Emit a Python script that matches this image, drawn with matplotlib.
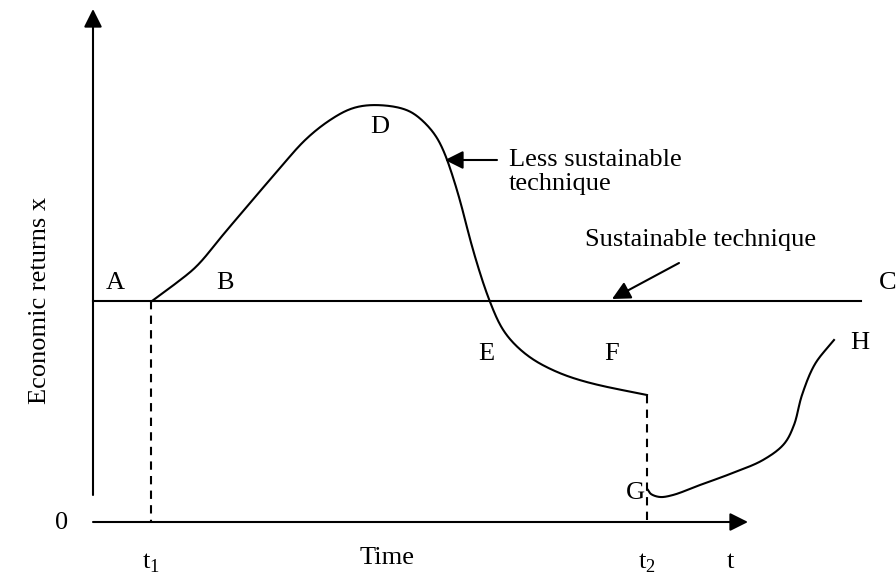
import numpy as np
import matplotlib.pyplot as plt

plt.rcParams['font.family'] = ['Liberation Serif', 'DejaVu Serif']
plt.rcParams['mathtext.fontset'] = 'custom'
plt.rcParams['mathtext.rm'] = 'Liberation Serif'

# diagram coordinates (pixel space, y downward)
less_x = [152, 175, 197, 222, 250, 280, 305, 330, 353, 377, 407, 425, 440, 457, 473, 490, 505, 528, 557, 590, 647]
less_y = [301, 284, 266, 236, 203, 168, 140, 120, 108, 105, 110, 123, 143, 190, 250, 302, 333, 356, 372, 383, 395]
after_x = [648, 651, 660, 673, 700, 730, 763, 784, 794, 802, 815, 834]
after_y = [490, 494, 497, 495, 485, 474, 460, 444, 425, 395, 364, 340]
sust_y = 301
t1, t2 = 151, 647
point_labels = ['A', 'B', 'C', 'D', 'E', 'F', 'G', 'H']
label_x = [115, 225, 888, 380, 486, 612, 635, 860]
label_y = [283, 283, 283, 127, 354, 354, 493, 343]

fig = plt.figure(figsize=(8.96, 5.75), dpi=100)
ax = fig.add_axes([0, 0, 1, 1])
ax.set_xlim(0, 896)
ax.set_ylim(575, 0)
ax.axis('off')

fs = 19
lw = 1.5
head = '-|>,head_length=1.1,head_width=0.55'

# axes
ax.annotate('', xy=(93, 9), xytext=(93, 495),
            arrowprops=dict(arrowstyle=head, color='black', lw=lw, shrinkA=0, shrinkB=0))
ax.annotate('', xy=(748, 522), xytext=(93, 522),
            arrowprops=dict(arrowstyle=head, color='black', lw=lw, shrinkA=0, shrinkB=0))

# sustainable technique line
ax.plot([93, 861], [sust_y, sust_y], color='black', lw=lw)


def smooth(xs, ys, n=25, alpha=0.5, k=9):
    # centripetal catmull-rom through the read points, then a light moving average
    pts = np.column_stack([np.array(xs, float), np.array(ys, float)])
    p = np.vstack([2 * pts[0] - pts[1], pts, 2 * pts[-1] - pts[-2]])
    out = []
    for i in range(1, len(p) - 2):
        p0, p1, p2, p3 = p[i - 1], p[i], p[i + 1], p[i + 2]
        t0 = 0.0
        t1_ = t0 + np.linalg.norm(p1 - p0) ** alpha
        t2_ = t1_ + np.linalg.norm(p2 - p1) ** alpha
        t3_ = t2_ + np.linalg.norm(p3 - p2) ** alpha
        for t in np.linspace(t1_, t2_, n, endpoint=False):
            a1 = (t1_ - t) / (t1_ - t0) * p0 + (t - t0) / (t1_ - t0) * p1
            a2 = (t2_ - t) / (t2_ - t1_) * p1 + (t - t1_) / (t2_ - t1_) * p2
            a3 = (t3_ - t) / (t3_ - t2_) * p2 + (t - t2_) / (t3_ - t2_) * p3
            b1 = (t2_ - t) / (t2_ - t0) * a1 + (t - t0) / (t2_ - t0) * a2
            b2 = (t3_ - t) / (t3_ - t1_) * a2 + (t - t1_) / (t3_ - t1_) * a3
            out.append((t2_ - t) / (t2_ - t1_) * b1 + (t - t1_) / (t2_ - t1_) * b2)
    out.append(pts[-1])
    out = np.array(out)
    pad = k // 2
    w = np.ones(k) / k
    sm = out.copy()
    for c in range(2):
        padded = np.concatenate([np.full(pad, out[0, c]), out[:, c], np.full(pad, out[-1, c])])
        sm[:, c] = np.convolve(padded, w, mode='valid')
    sm[0], sm[-1] = out[0], out[-1]
    return sm[:, 0], sm[:, 1]


sx, sy = smooth(less_x, less_y, k=15)
ax.plot(sx, sy, color='black', lw=lw)
sx, sy = smooth(after_x, after_y, k=3)
ax.plot(sx, sy, color='black', lw=lw)

# dashed drops
ax.plot([t1, t1], [sust_y, 522], color='black', lw=lw, ls=(0, (4, 3)))
ax.plot([t2, t2], [less_y[-1], 522], color='black', lw=lw, ls=(0, (4, 3)))

# point labels
for s, x, y in zip(point_labels, label_x, label_y):
    ax.text(x, y, s, fontsize=fs, ha='center', va='center')

ax.text(62, 523, '0', fontsize=fs, ha='center', va='center')
ax.text(t1, 563, r't$_\mathrm{1}$', fontsize=fs, ha='center', va='center')
ax.text(t2, 563, r't$_\mathrm{2}$', fontsize=fs, ha='center', va='center')
ax.text(730, 562, 't', fontsize=fs, ha='center', va='center')
ax.text(387, 558, 'Time', fontsize=fs, ha='center', va='center')
ax.text(40, 300, 'Economic returns x', fontsize=fs, ha='center', va='center', rotation=90)

ax.text(509, 172, 'Less sustainable\ntechnique', fontsize=fs, ha='left', va='center', linespacing=1.15)
ax.annotate('', xy=(445, 160), xytext=(497, 160),
            arrowprops=dict(arrowstyle=head, color='black', lw=lw, shrinkA=0, shrinkB=0))
ax.text(701, 240, 'Sustainable technique', fontsize=fs, ha='center', va='center')
ax.annotate('', xy=(612, 299), xytext=(679, 263),
            arrowprops=dict(arrowstyle=head, color='black', lw=lw, shrinkA=0, shrinkB=0))

fig.savefig('out.png', dpi=100)
